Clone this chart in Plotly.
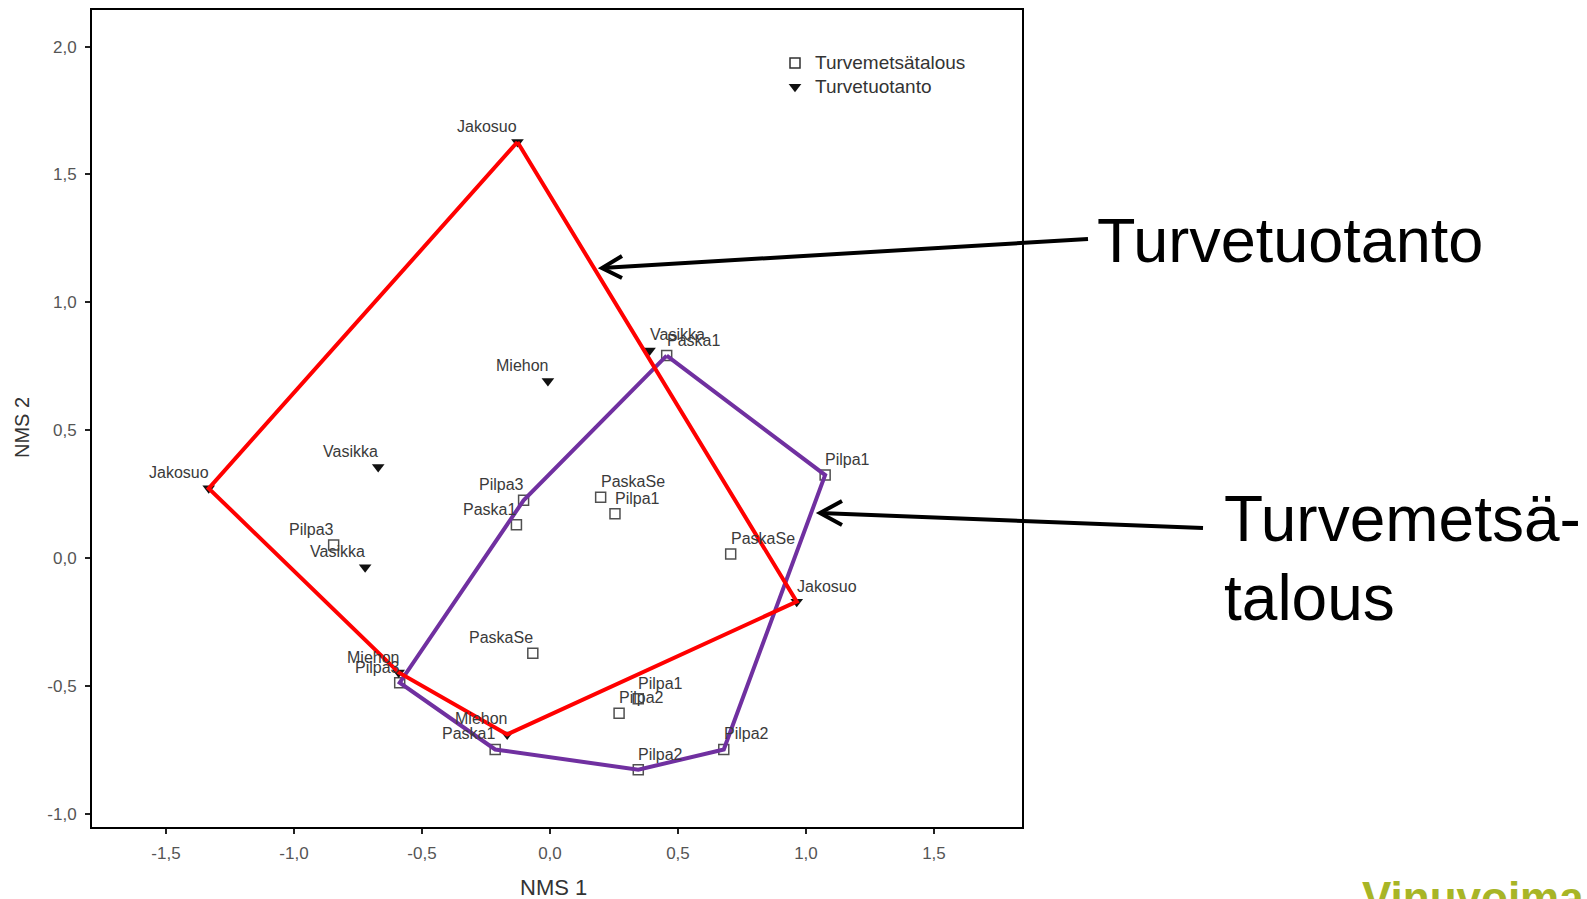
import plotly.graph_objects as go

# ---- data -----------------------------------------------------------------
tuot_names = ["Jakosuo", "Jakosuo", "Vasikka", "Vasikka", "Miehon", "Vasikka",
              "Jakosuo", "Miehon", "Miehon"]
tuot_x = [-0.127, -1.333, -0.671, -0.722, -0.008, 0.389, 0.964, -0.591, -0.167]
tuot_y = [1.627, 0.273, 0.356, -0.036, 0.693, 0.812, -0.170, -0.447, -0.689]
tuot_hull = [0, 6, 8, 7, 1, 0]

mets_names = ["Paska1", "Pilpa1", "PaskaSe", "Pilpa3", "Paska1", "PaskaSe",
              "Pilpa1", "Pilpa3", "PaskaSe", "Pilpa3", "Pilpa1", "Pilpa2",
              "Pilpa2", "Pilpa2", "Paska1"]
mets_x = [0.456, 1.075, 0.706, -0.103, -0.131, 0.198, 0.254, -0.845, -0.067,
          -0.587, 0.345, 0.270, 0.345, 0.679, -0.214]
mets_y = [0.792, 0.325, 0.016, 0.226, 0.131, 0.238, 0.174, 0.051, -0.372,
          -0.487, -0.550, -0.606, -0.827, -0.748, -0.748]
mets_hull = [0, 1, 13, 12, 14, 9, 3, 0]

x_ticks = [-1.5, -1.0, -0.5, 0.0, 0.5, 1.0, 1.5]
x_tick_labels = ["-1,5", "-1,0", "-0,5", "0,0", "0,5", "1,0", "1,5"]
y_ticks = [-1.0, -0.5, 0.0, 0.5, 1.0, 1.5, 2.0]
y_tick_labels = ["-1,0", "-0,5", "0,0", "0,5", "1,0", "1,5", "2,0"]

# ---- label placement (style): label sits left or right of its point -------
tuot_side = ["L", "L", "L", "L", "L", "R", "R", "L", "L"]
mets_side = ["R", "R", "R", "L", "L", "R", "R", "L", "L", "L", "R", "R", "R",
             "R", "L"]

W_PX, H_PX = 1587, 899
L, R, T, B = 92, 1022, 10, 827
PW, PH = R - L, B - T


def pxx(v):
    return (v - L) / PW


def pxy(v):
    return (B - v) / PH


FONT = "Liberation Sans, Arial, sans-serif"
label_font = dict(family=FONT, size=16, color="#3a3a3a")

fig = go.Figure()

fig.add_trace(go.Scatter(
    x=mets_x, y=mets_y, mode="markers", text=mets_names, showlegend=False,
    marker=dict(symbol="square-open", size=10, color="#505050",
                line=dict(width=1.5, color="#505050")),
    hoverinfo="text"))
fig.add_trace(go.Scatter(
    x=tuot_x, y=tuot_y, mode="markers", text=tuot_names, showlegend=False,
    marker=dict(symbol="triangle-down", size=11, color="#111111"),
    hoverinfo="text"))

fig.add_trace(go.Scatter(
    x=[mets_x[i] for i in mets_hull], y=[mets_y[i] for i in mets_hull],
    mode="lines", line=dict(color="#7030A0", width=4), showlegend=False,
    hoverinfo="skip"))
fig.add_trace(go.Scatter(
    x=[tuot_x[i] for i in tuot_hull], y=[tuot_y[i] for i in tuot_hull],
    mode="lines", line=dict(color="#FF0000", width=4), showlegend=False,
    hoverinfo="skip"))

# legend-only entries
fig.add_trace(go.Scatter(
    x=[None], y=[None], mode="markers",
    name="<span style='font-size:19px'>Turvemetsätalous</span>",
    marker=dict(symbol="square-open", size=10, color="#303030",
                line=dict(width=1.5, color="#303030"))))
fig.add_trace(go.Scatter(
    x=[None], y=[None], mode="markers",
    name="<span style='font-size:19px'>Turvetuotanto</span>",
    marker=dict(symbol="triangle-down", size=11, color="#111111")))

axis_common = dict(
    showgrid=False, zeroline=False, showline=True, linecolor="black",
    linewidth=2, mirror=True, ticks="outside", ticklen=5, tickwidth=2,
    tickcolor="#222", ticklabelstandoff=5,
    tickfont=dict(family=FONT, size=17, color="#555555"))

fig.update_xaxes(range=[-1.789, 1.844], tickvals=x_ticks,
                 ticktext=x_tick_labels, **axis_common)
fig.update_yaxes(range=[-1.051, 2.143], tickvals=y_ticks,
                 ticktext=y_tick_labels, **axis_common)

annotations = []
# point labels, placed through the data axes
for names, xs, ys, sides in ((mets_names, mets_x, mets_y, mets_side),
                             (tuot_names, tuot_x, tuot_y, tuot_side)):
    for n, xv, yv, s in zip(names, xs, ys, sides):
        annotations.append(dict(
            text=n, x=xv, y=yv, xref="x", yref="y", showarrow=False,
            xanchor="right" if s == "L" else "left", yanchor="bottom",
            xshift=2 if s == "L" else -2, yshift=5, font=label_font))

shapes = []
# arrows (callouts)
arrows = [
    ((1088, 239), (602, 268), (622, 256), (622, 278)),
    ((1203, 528), (820, 513), (842, 501), (842, 525)),
]
for tail, tip, a1, a2 in arrows:
    shapes.append(dict(type="line", xref="paper", yref="paper",
                       x0=pxx(tail[0]), y0=pxy(tail[1]),
                       x1=pxx(tip[0]), y1=pxy(tip[1]),
                       line=dict(color="black", width=4)))
    path = "M %f %f L %f %f L %f %f" % (pxx(a1[0]), pxy(a1[1]),
                                        pxx(tip[0]), pxy(tip[1]),
                                        pxx(a2[0]), pxy(a2[1]))
    shapes.append(dict(type="path", xref="paper", yref="paper", path=path,
                       line=dict(color="black", width=4)))

big = dict(family=FONT, size=63, color="black")
big2 = dict(family=FONT, size=64, color="black")
annotations += [
    dict(text="Turvetuotanto", x=pxx(1095), y=pxy(240), xref="paper",
         yref="paper", xanchor="left", yanchor="middle", showarrow=False,
         font=big),
    dict(text="Turvemetsä-", x=pxx(1222), y=pxy(519), xref="paper",
         yref="paper", xanchor="left", yanchor="middle", showarrow=False,
         font=big2),
    dict(text="talous", x=pxx(1222), y=pxy(598), xref="paper",
         yref="paper", xanchor="left", yanchor="middle", showarrow=False,
         font=big2),
    dict(text="<b>Vinuvoima</b>", x=pxx(1360), y=pxy(897), xref="paper",
         yref="paper", xanchor="left", yanchor="middle", showarrow=False,
         font=dict(family=FONT, size=44, color="#A8B526")),
    dict(text="NMS 1", x=pxx(553), y=pxy(887), xref="paper", yref="paper",
         xanchor="center", yanchor="middle", showarrow=False,
         font=dict(family=FONT, size=22, color="#333333")),
    dict(text="NMS 2", x=pxx(22), y=pxy(428), xref="paper", yref="paper",
         xanchor="center", yanchor="middle", showarrow=False, textangle=-90,
         font=dict(family=FONT, size=20, color="#333333")),
]

fig.update_layout(
    width=W_PX, height=H_PX,
    margin=dict(l=L, r=W_PX - R, t=T, b=H_PX - B, autoexpand=False),
    paper_bgcolor="white", plot_bgcolor="white",
    showlegend=True,
    legend=dict(x=pxx(775), y=pxy(46), xanchor="left", yanchor="top",
                bgcolor="rgba(0,0,0,0)", itemwidth=30, tracegroupgap=0,
                font=dict(family=FONT, size=16, color="#333333")),
    shapes=shapes, annotations=annotations,
)

fig.write_html(
    "out.html",
    config={"displayModeBar": False},
    post_script="document.body.style.margin='0';"
                "document.body.style.overflow='hidden';")
